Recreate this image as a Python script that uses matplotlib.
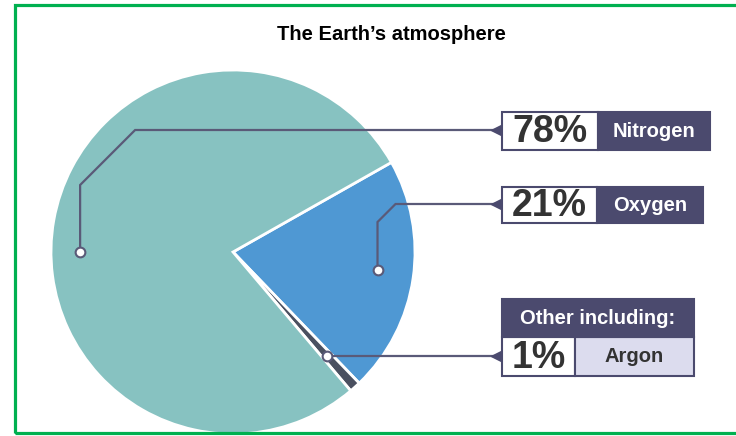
"""地球の大気組成を円グラフと吹き出しラベルで描く。"""

import matplotlib

matplotlib.use("Agg")

import matplotlib.pyplot as plt  # noqa: E402
import numpy as np  # noqa: E402
from matplotlib.patches import Rectangle  # noqa: E402

TITLE = "The Earth\u2019s atmosphere"

# 時計回りに並べた順（酸素 → その他 → 窒素）
gases = ["Oxygen", "Argon", "Nitrogen"]
shares = [21, 1, 78]
pct_labels = ["21%", "1%", "78%"]

COLORS = ["#4f98d3", "#4a5060", "#87c2c1"]
LINE = "#5a5a78"
DARK = "#4b4a6e"
LAVENDER = "#dcdcee"
TEXT = "#333333"
GREEN = "#00b050"

W, H = 736, 436
CX, CY, R = 233, 252, 182  # 画像座標（y は下向き）


def Y(y):
    """画像の y 座標をデータ座標へ。"""
    return H - y


fig = plt.figure(figsize=(W / 100, H / 100), dpi=100)
ax = fig.add_axes([0, 0, 1, 1])

wedges, _ = ax.pie(
    shares,
    colors=COLORS,
    startangle=29.5,
    counterclock=False,
    center=(CX, Y(CY)),
    radius=R,
    wedgeprops=dict(edgecolor="white", linewidth=2),
)
ax.set_xlim(0, W)
ax.set_ylim(0, H)
ax.set_aspect("equal")
ax.axis("off")

# 吹き出しの配置。bend は 45 度の折れ線の長さ。
callouts = {
    "Nitrogen": dict(angle=180, frac=0.84, bend=55, box=(112, 150), split=(598, 710)),
    "Oxygen": dict(angle=-7, frac=0.80, bend=18, box=(187, 223), split=(597, 703)),
    "Argon": dict(angle=None, frac=0.77, bend=0, box=(337, 376), split=(575, 694)),
}
BOX_X = 502

for wedge, gas, pct in zip(wedges, gases, pct_labels):
    spec = callouts[gas]
    angle = spec["angle"]
    if angle is None:
        angle = (wedge.theta1 + wedge.theta2) / 2
    ax_ = CX + spec["frac"] * R * np.cos(np.radians(angle))
    ay = CY - spec["frac"] * R * np.sin(np.radians(angle))
    top, bottom = spec["box"]
    mid_x, right_x = spec["split"]
    line_y = (top + bottom) / 2 - 1 if gas != "Argon" else ay
    d = spec["bend"]
    xs = [ax_, ax_, ax_ + d, BOX_X - 2]
    ys = [ay, line_y + d, line_y, line_y]
    ax.plot(xs, [Y(v) for v in ys], color=LINE, lw=1.6, zorder=3,
            solid_joinstyle="miter")
    ax.plot(ax_, Y(ay), "o", ms=7, mfc="white", mec=LINE, mew=1.5, zorder=4)
    ax.plot(BOX_X - 5, Y(line_y), "<", ms=8, color=DARK, zorder=4)

    # 数値の白い枠と名前の枠
    right_face = LAVENDER if gas == "Argon" else DARK
    ax.add_patch(Rectangle((BOX_X, Y(bottom)), mid_x - BOX_X, bottom - top,
                           fc="white", ec=DARK, lw=1.5, zorder=5))
    ax.add_patch(Rectangle((mid_x, Y(bottom)), right_x - mid_x, bottom - top,
                           fc=right_face, ec=DARK, lw=1.5, zorder=5))
    ax.text((BOX_X + mid_x) / 2, Y((top + bottom) / 2 + 1), pct,
            family="Liberation Sans", weight="bold", fontsize=27,
            color=TEXT, ha="center", va="center", zorder=6)
    ax.text((mid_x + right_x) / 2, Y((top + bottom) / 2), gas,
            family="Liberation Sans", weight="bold", fontsize=14.5,
            color=TEXT if gas == "Argon" else "white",
            ha="center", va="center", zorder=6)

# 「Other including:」の見出し
ax.add_patch(Rectangle((BOX_X, Y(337)), 694 - BOX_X, 337 - 299,
                       fc=DARK, ec=DARK, lw=1.5, zorder=5))
ax.text((BOX_X + 694) / 2, Y(318), "Other including:",
        family="Liberation Sans", weight="bold", fontsize=14.5,
        color="white", ha="center", va="center", zorder=6)

ax.text(391, Y(34), TITLE, family="Liberation Sans", weight="bold",
        fontsize=14.5, color="black", ha="center", va="center")

# 外枠（右端は画像の外まで伸びている）
ax.add_patch(Rectangle((15, Y(433)), 760, 428, fill=False, ec=GREEN,
                       lw=2.3, zorder=10))

fig.savefig("out.png", dpi=100)
